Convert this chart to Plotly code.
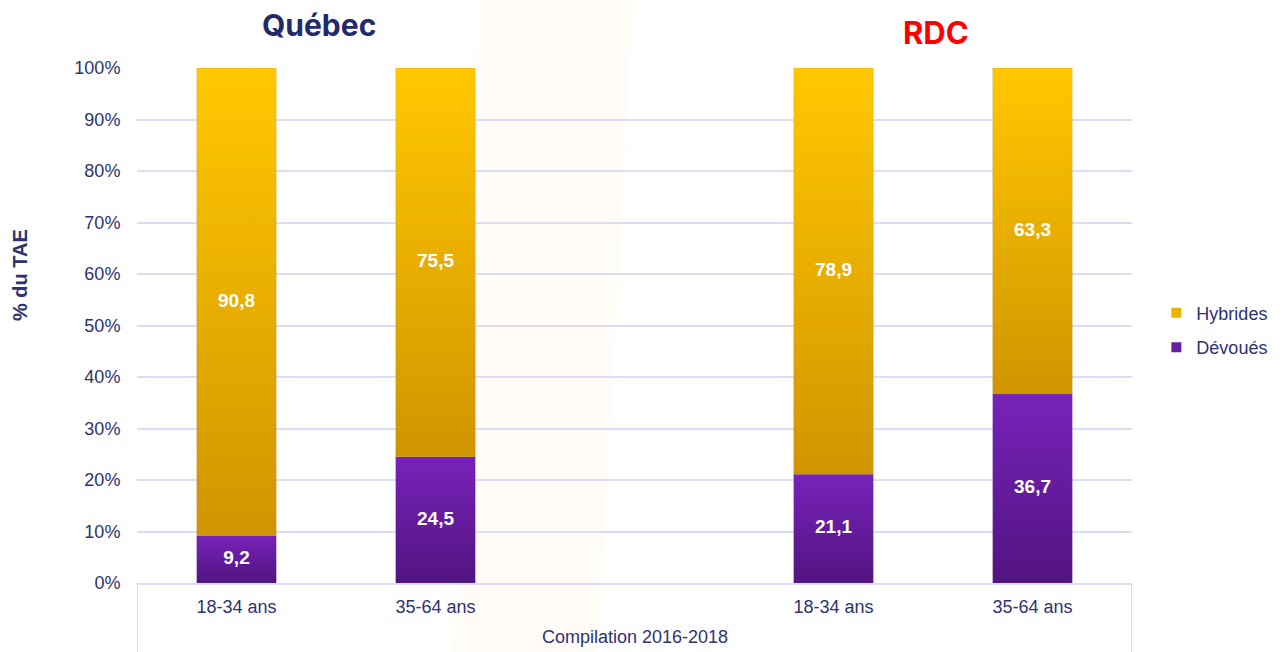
import plotly.graph_objects as go

# Data: share of TAE (%) by profile, region and age group
regions = ["Québec", "Québec", "RDC", "RDC"]
ages = ["18-34 ans", "35-64 ans", "18-34 ans", "35-64 ans"]
devoues = [9.2, 24.5, 21.1, 36.7]
hybrides = [90.8, 75.5, 78.9, 63.3]
slots = [0, 1, 3, 4]          # slot 2 left empty between the two regions
y_ticks = [0, 10, 20, 30, 40, 50, 60, 70, 80, 90, 100]

NAVY = "#2E3272"
GRID = "#DCDDF3"
BAR_W = 0.40

# (name, values, top colour, bottom colour)
series = [
    ("Dévoués", devoues, "#7722BA", "#521480"),
    ("Hybrides", hybrides, "#FFC800", "#D29400"),
]


def fmt(v):
    return f"{v:.1f}".replace(".", ",")


fig = go.Figure()

# Stacked bars drawn as gradient-filled rectangles in data coordinates
base = [0.0] * len(slots)
label_x, label_y, label_t = [], [], []
for name, vals, top_c, bot_c in series:
    for i, (xc, v) in enumerate(zip(slots, vals)):
        y0, y1 = base[i], base[i] + v
        x0, x1 = xc - BAR_W / 2, xc + BAR_W / 2
        fig.add_trace(go.Scatter(
            x=[x0, x1, x1, x0, x0],
            y=[y0, y0, y1, y1, y0],
            mode="lines",
            fill="toself",
            line=dict(width=0.6, color="rgba(120,120,140,0.25)"),
            fillgradient=dict(type="vertical", start=y0, stop=y1,
                              colorscale=[[0, bot_c], [1, top_c]]),
            showlegend=False,
            hoverinfo="skip",
        ))
        label_x.append(xc)
        label_y.append((y0 + y1) / 2)
        label_t.append(fmt(v))
        base[i] = y1

# Value labels inside segments
fig.add_trace(go.Scatter(
    x=label_x, y=label_y, text=label_t, mode="text",
    textfont=dict(family="Liberation Sans, Arial", size=19, color="white", weight="bold"),
    showlegend=False, hoverinfo="skip",
))

# Legend entries
for name, col in [("Hybrides", "#EDB100"), ("Dévoués", "#6A1CA6")]:
    fig.add_trace(go.Scatter(
        x=[None], y=[None], mode="markers", name=name, legendgroup=name,
        marker=dict(symbol="square", size=10, color=col),
    ))

# Region titles
fig.add_annotation(text="<b>Québec</b>", x=0.415, xref="x", y=1.083, yref="paper",
                   showarrow=False, yanchor="middle",
                   font=dict(family="Inter, Open Sans", size=30, color="#232A6C"))
fig.add_annotation(text="<b>RDC</b>", x=3.515, xref="x", y=1.068, yref="paper",
                   showarrow=False, yanchor="middle",
                   font=dict(family="Inter, Open Sans", size=31, color="#FF0000"))

# Outer category label and its frame
fig.add_annotation(text="Compilation 2016-2018", x=2, xref="x", y=-0.105, yref="paper",
                   showarrow=False, yanchor="middle",
                   font=dict(family="Liberation Sans, Arial", size=18, color=NAVY))
for xe in (-0.5, 4.5):
    fig.add_shape(type="line", xref="x", yref="paper", x0=xe, x1=xe, y0=0, y1=-0.14,
                  line=dict(color=GRID, width=2))

# Y-axis title
fig.add_annotation(text="<b>% du TAE</b>", xref="paper", yref="paper",
                   x=-0.1176, y=0.598, textangle=-90, showarrow=False,
                   xanchor="center", yanchor="middle",
                   font=dict(family="Liberation Sans, Arial", size=20, color=NAVY))

# Faint decorative band in the background
fig.add_shape(type="path", xref="paper", yref="paper", layer="below",
              path="M 0.345,1.132 L 0.499,1.132 L 0.462,-0.134 L 0.318,-0.134 Z",
              fillcolor="rgba(255,200,120,0.05)", line=dict(width=0))

fig.update_layout(
    width=1282, height=652,
    margin=dict(l=137, r=150, t=68, b=69, autoexpand=False),
    paper_bgcolor="white", plot_bgcolor="rgba(0,0,0,0)",
    font=dict(family="Liberation Sans, Arial", size=18, color=NAVY),
    showlegend=True,
    legend=dict(xref="container", x=0.902, y=0.491, xanchor="left", yanchor="middle",
                font=dict(size=18, color=NAVY), tracegroupgap=8,
                itemsizing="trace", itemwidth=30, bgcolor="rgba(0,0,0,0)"),
    xaxis=dict(range=[-0.5, 4.5], tickmode="array", tickvals=slots, ticktext=ages,
               showgrid=False, zeroline=False, showline=True, linecolor=GRID, linewidth=2,
               ticks="outside", ticklen=6, tickcolor="rgba(0,0,0,0)",
               tickfont=dict(size=18, color=NAVY), fixedrange=True),
    yaxis=dict(range=[0, 100], tickmode="array", tickvals=y_ticks,
               ticktext=[f"{t}%" for t in y_ticks],
               showgrid=True, gridcolor=GRID, gridwidth=1.6, zeroline=False,
               ticks="outside", ticklen=12, tickcolor="rgba(0,0,0,0)",
               tickfont=dict(size=18, color=NAVY), fixedrange=True),
)

fig.write_html("out.html")
